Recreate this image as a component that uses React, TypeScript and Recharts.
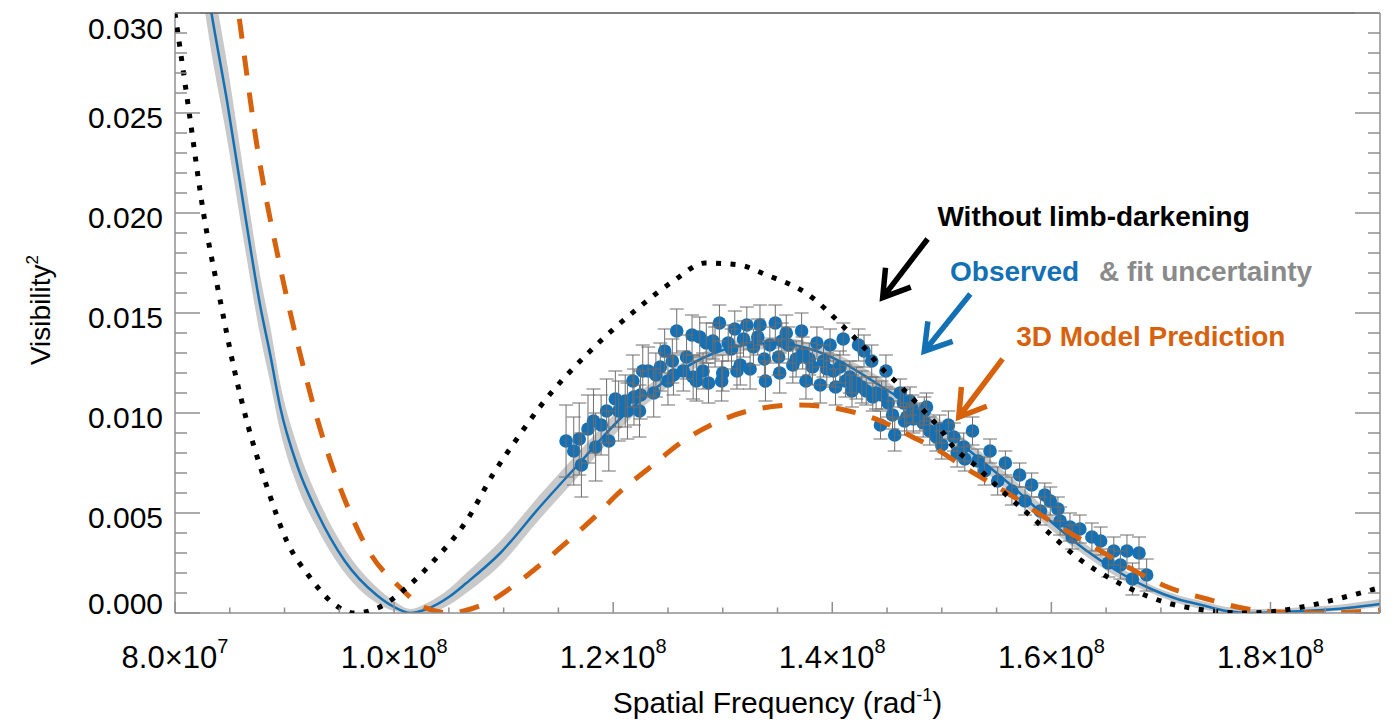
import React from 'react';
import {
  ComposedChart,
  Line,
  Area,
  Scatter,
  ErrorBar,
  XAxis,
  YAxis,
  ReferenceLine,
  ReferenceDot,
} from 'recharts';

const FONT = '"Liberation Sans", Arial, Helvetica, sans-serif';
const AXIS_GRAY = '#8f8f8f';
const FIT_BLUE = '#1470b5';
const DOT_BLUE = '#1570b4';
const MODEL_ORANGE = '#d7620e';
const BAND_GRAY = '#c9c9c9';
const ERR_GRAY = '#6e6e6e';
const TEXT_GRAY = '#8a8a8a';

// ---------- axis ticks (spatial frequency in units of 1e6 rad^-1) ----------
const X_MAJOR = [80, 100, 120, 140, 160, 180];
const X_MAJOR_MANTISSA = ['8.0', '1.0', '1.2', '1.4', '1.6', '1.8'];
const X_MAJOR_EXPONENT = ['7', '8', '8', '8', '8', '8'];
const X_MINOR = [80, 85, 90, 95, 100, 105, 110, 115, 120, 125, 130, 135, 140, 145, 150, 155, 160, 165, 170, 175, 180, 185, 190];
const Y_MAJOR = [0, 0.005, 0.01, 0.015, 0.02, 0.025, 0.03];
const Y_MAJOR_LABELS = ['0.000', '0.005', '0.010', '0.015', '0.020', '0.025', '0.030'];
const Y_MINOR = [
  0, 0.001, 0.002, 0.003, 0.004, 0.005, 0.006, 0.007, 0.008, 0.009, 0.01, 0.011, 0.012, 0.013, 0.014, 0.015,
  0.016, 0.017, 0.018, 0.019, 0.02, 0.021, 0.022, 0.023, 0.024, 0.025, 0.026, 0.027, 0.028, 0.029, 0.03,
];

// ---------- series ----------
// Without limb-darkening (uniform disk): [x, V^2]
const UNIFORM_DISK: [number, number][] = [
  [80, 0.03], [81.3, 0.025], [82.6, 0.02], [84.1, 0.0157], [85.4, 0.0122], [86.7, 0.0093], [88.4, 0.0063],
  [90.2, 0.0036], [92.3, 0.0018], [94.4, 0.0005], [96.4, 0.0], [98.7, 0.0003], [101.2, 0.0013], [103.6, 0.0026],
  [106.6, 0.0046], [109.1, 0.007], [111.2, 0.0087], [113.3, 0.0103], [117.9, 0.0131], [122.4, 0.0153],
  [125.5, 0.0166], [128.4, 0.0175], [131.5, 0.0174], [134.0, 0.0169], [137.6, 0.016], [141.6, 0.014],
  [142.7, 0.0134], [144.4, 0.0123], [146.3, 0.0113], [148.2, 0.0102], [150.0, 0.0091], [150.9, 0.0084],
  [153.0, 0.0074], [155.5, 0.0061], [158.0, 0.0049], [160.2, 0.0038], [162.3, 0.0028], [164.5, 0.002],
  [166.9, 0.0013], [170.6, 0.0005], [173.3, 0.0002], [175.8, 0.00003], [177.6, 0.0], [179.8, 0.00005],
  [183.8, 0.0004], [187.5, 0.0009], [190.2, 0.0013],
];

// 3D model prediction: [x, V^2]
const MODEL_3D: [number, number][] = [
  [84.5, 0.0352], [85.8, 0.03], [87.5, 0.0233], [89.6, 0.0173], [91.4, 0.013], [93.2, 0.0093], [95.4, 0.0058],
  [97.8, 0.003], [100.5, 0.0013], [102.7, 0.0003], [105.1, 0.0], [107.0, 0.0002], [108.8, 0.0006], [111.0, 0.0014],
  [113.1, 0.0023], [116.5, 0.0039], [118.5, 0.0049], [120.3, 0.0059], [123.4, 0.0073], [126.4, 0.0086],
  [129.7, 0.0096], [133.1, 0.0102], [136.9, 0.0104], [140.7, 0.0102], [144.4, 0.0096], [147.7, 0.0087],
  [149.5, 0.0082], [152.0, 0.0073], [156.0, 0.006], [159.9, 0.0046], [163.9, 0.0033], [167.3, 0.0022],
  [170.6, 0.0013], [174.2, 0.0007], [177.9, 0.0002], [181.5, 0.00003], [184.5, 0.0], [187.5, 0.00005], [190.0, 0.00015],
];

// Observed fit with uncertainty band: [x, V^2, low, high]
const FIT: [number, number, number, number][] = [
  [82, 0.0348, 0.0328, 0.0368], [83.3, 0.0301, 0.0281, 0.0321], [84.75, 0.0256, 0.0237, 0.0275], [86.4, 0.0199, 0.0182, 0.0216],
  [87.8, 0.0153, 0.0138, 0.0168], [88.7, 0.0129, 0.0115, 0.0143], [89.6, 0.0103, 0.0091, 0.0115], [91.2, 0.0073, 0.0063, 0.0083],
  [93.0, 0.005, 0.0042, 0.0058], [95.5, 0.0026, 0.002, 0.0032], [98.4, 0.0009, 0.0005, 0.0013], [100.0, 0.0003, 0.0001, 0.0006],
  [101.5, 0.0, 0.0, 0.0002], [103.0, 0.0002, 0.0, 0.0005], [105.0, 0.0008, 0.0004, 0.0012], [106.6, 0.0015, 0.001, 0.002],
  [109.7, 0.003, 0.0024, 0.0036], [113.3, 0.0053, 0.0047, 0.0059], [117.1, 0.0076, 0.007, 0.0082], [120.8, 0.0098, 0.0093, 0.0103],
  [124.5, 0.0115, 0.0111, 0.0119], [128.0, 0.0127, 0.0124, 0.013], [132.0, 0.0134, 0.0131, 0.0137], [135.0, 0.0135, 0.0132, 0.0138],
  [138.0, 0.0132, 0.0129, 0.0135], [141.0, 0.0125, 0.0122, 0.0128], [143.7, 0.0116, 0.0112, 0.012], [146.8, 0.0105, 0.0101, 0.0109],
  [150.0, 0.0092, 0.0088, 0.0096], [153.0, 0.0079, 0.0075, 0.0083], [156.5, 0.0063, 0.0059, 0.0067], [159.9, 0.0046, 0.0042, 0.005],
  [163.0, 0.0032, 0.0029, 0.0035], [166.0, 0.0021, 0.0018, 0.0024], [169.1, 0.0012, 0.001, 0.0014], [171.5, 0.0007, 0.0005, 0.0009],
  [173.7, 0.0004, 0.0002, 0.0006], [176.0, 0.0001, 0.0, 0.0003], [178.3, 0.0, 0.0, 0.0002], [180.5, 0.00005, 0.0, 0.0002],
  [183.0, 0.0001, 0.0, 0.0003], [186.0, 0.0002, 0.0001, 0.0004], [190.0, 0.00045, 0.0003, 0.0007],
];

// Observed data: [x, V^2, sigma]
const OBSERVED: [number, number, number][] = [
  [115.7, 0.0086, 0.0018], [116.4, 0.0081, 0.0017], [116.9, 0.0087, 0.0018], [117.1, 0.0074, 0.0016], [117.7, 0.0092, 0.0017],
  [118.2, 0.0096, 0.0016], [118.4, 0.0083, 0.0017], [118.9, 0.0094, 0.0015], [119.4, 0.0101, 0.0016], [119.6, 0.0086, 0.0015],
  [120.2, 0.0107, 0.0014], [120.5, 0.0101, 0.0015], [121.1, 0.0106, 0.0013], [121.3, 0.0101, 0.0014], [121.8, 0.0116, 0.0013],
  [121.9, 0.0108, 0.0014], [122.4, 0.0101, 0.0013], [122.5, 0.0109, 0.0012], [122.7, 0.0121, 0.0013], [123.2, 0.0121, 0.0012],
  [123.7, 0.011, 0.0012], [123.9, 0.0119, 0.0011], [124.3, 0.0123, 0.0012], [124.7, 0.0131, 0.0011], [125.0, 0.0116, 0.0012],
  [125.4, 0.0126, 0.0011], [125.5, 0.0119, 0.001], [125.8, 0.0141, 0.0011], [126.4, 0.0121, 0.001], [126.7, 0.0128, 0.0011],
  [127.2, 0.0139, 0.001], [127.3, 0.0118, 0.0011], [127.6, 0.0116, 0.001], [127.9, 0.0138, 0.001], [128.2, 0.0121, 0.0009],
  [128.5, 0.0135, 0.001], [128.7, 0.0115, 0.001], [129.1, 0.0136, 0.0009], [129.3, 0.0133, 0.001], [129.7, 0.0145, 0.0009],
  [129.9, 0.0116, 0.001], [130.0, 0.012, 0.0009], [130.5, 0.0135, 0.0009], [130.8, 0.0132, 0.001], [131.1, 0.0142, 0.0009],
  [131.3, 0.0121, 0.0009], [131.6, 0.0124, 0.001], [131.9, 0.0137, 0.0009], [132.2, 0.0144, 0.0009], [132.5, 0.0122, 0.001],
  [132.8, 0.0133, 0.0009], [133.2, 0.0138, 0.0009], [133.4, 0.0144, 0.001], [133.8, 0.0127, 0.0009], [133.9, 0.0116, 0.001],
  [134.3, 0.0134, 0.0009], [134.8, 0.0145, 0.0009], [135.1, 0.0128, 0.0009], [135.2, 0.012, 0.001], [135.4, 0.0136, 0.0009],
  [135.8, 0.014, 0.0009], [136.0, 0.0134, 0.0009], [136.4, 0.0124, 0.0009], [136.7, 0.0127, 0.0009], [137.2, 0.0141, 0.0009],
  [137.3, 0.013, 0.0008], [137.6, 0.0116, 0.0009], [137.9, 0.0127, 0.0008], [138.2, 0.0123, 0.0009], [138.6, 0.0135, 0.0008],
  [138.9, 0.0114, 0.0009], [139.2, 0.0126, 0.0008], [139.5, 0.0122, 0.0008], [139.8, 0.0134, 0.0008], [140.1, 0.0121, 0.0008],
  [140.3, 0.0113, 0.0009], [140.7, 0.0123, 0.0008], [141.0, 0.0137, 0.0008], [141.2, 0.0116, 0.0008], [141.6, 0.0118, 0.0008],
  [141.8, 0.0111, 0.0008], [142.2, 0.0115, 0.0008], [142.4, 0.0134, 0.0008], [142.7, 0.0113, 0.0008], [142.9, 0.0131, 0.0008],
  [143.1, 0.0111, 0.0007], [143.6, 0.0126, 0.0008], [143.7, 0.0108, 0.0007], [144.0, 0.011, 0.0008], [144.4, 0.0094, 0.0007],
  [144.5, 0.0109, 0.0007], [144.9, 0.0121, 0.0008], [145.1, 0.0105, 0.0007], [145.5, 0.0099, 0.0007], [145.7, 0.0089, 0.0008],
  [146.2, 0.011, 0.0007], [146.5, 0.0105, 0.0007], [146.6, 0.0096, 0.0007], [146.8, 0.0098, 0.0007], [147.1, 0.0106, 0.0007],
  [147.3, 0.0102, 0.0007], [147.4, 0.0097, 0.0007], [148.0, 0.0098, 0.0007], [148.3, 0.0095, 0.0007], [148.4, 0.0101, 0.0007],
  [148.6, 0.0103, 0.0007], [148.9, 0.0091, 0.0007], [149.5, 0.0088, 0.0007], [149.8, 0.0092, 0.0007], [150.0, 0.0084, 0.0007],
  [150.6, 0.0094, 0.0007], [151.1, 0.0088, 0.0007], [151.4, 0.008, 0.0007], [152.0, 0.0083, 0.0007], [152.1, 0.0077, 0.0006],
  [152.8, 0.0091, 0.0007], [153.3, 0.0076, 0.0006], [153.9, 0.0071, 0.0007], [154.4, 0.0081, 0.0006], [155.1, 0.0066, 0.0007],
  [155.8, 0.0075, 0.0006], [156.4, 0.0061, 0.0007], [157.1, 0.0069, 0.0006], [157.6, 0.0056, 0.0007], [158.2, 0.0064, 0.0006],
  [159.0, 0.0051, 0.0007], [159.4, 0.0059, 0.0006], [159.9, 0.0056, 0.0007], [160.6, 0.0052, 0.0006], [160.8, 0.0046, 0.0007],
  [161.7, 0.0043, 0.0007], [161.9, 0.0038, 0.0006], [162.6, 0.0042, 0.0007], [163.7, 0.0038, 0.0007], [164.5, 0.0036, 0.0007],
  [165.2, 0.0025, 0.0007], [165.7, 0.0031, 0.0007], [166.3, 0.0024, 0.0007], [166.9, 0.0031, 0.0008], [167.4, 0.0017, 0.0008],
  [168.0, 0.003, 0.0008], [168.7, 0.0019, 0.0008],
];

// ---------- annotations (data coordinates) ----------
const LABEL_NO_LD = { text: 'Without limb-darkening', x: 149.6, y: 0.01935 };
const LABEL_OBS = { text: 'Observed', x: 150.75, y: 0.0166 };
const LABEL_UNC = { text: '& fit uncertainty', x: 164.35, y: 0.0166 };
const LABEL_3D = { text: '3D Model Prediction', x: 156.8, y: 0.01335 };
const ARROW_NO_LD: [{ x: number; y: number }, { x: number; y: number }] = [{ x: 148.7, y: 0.0187 }, { x: 144.6, y: 0.01577 }];
const ARROW_OBS: [{ x: number; y: number }, { x: number; y: number }] = [{ x: 152.6, y: 0.01595 }, { x: 148.4, y: 0.01309 }];
const ARROW_3D: [{ x: number; y: number }, { x: number; y: number }] = [{ x: 155.55, y: 0.01271 }, { x: 151.55, y: 0.0098 }];

// ---------- derived tables ----------
const udData = UNIFORM_DISK.map(([x, v]) => ({ x, v }));
const modelData = MODEL_3D.map(([x, v]) => ({ x, v }));
const fitData = FIT.map(([x, v, lo, hi]) => ({ x, v, band: [lo, hi] }));
const obsData = OBSERVED.map(([x, v, e]) => ({ x, v, e }));

// ---------- custom ticks ----------
const BottomTick = (p: any) => {
  const { x, y, payload } = p;
  const i = X_MAJOR.indexOf(payload.value);
  const major = i >= 0;
  return (
    <g>
      <line x1={x} x2={x} y1={y} y2={y - (major ? 11 : 5.5)} stroke={AXIS_GRAY} strokeWidth={1.5} />
      {major && (
        <text x={x} y={y + 55} textAnchor="middle" fontSize={31} fontFamily={FONT} fill="#000">
          {X_MAJOR_MANTISSA[i]}×10
          <tspan dy={-15} fontSize={20}>{X_MAJOR_EXPONENT[i]}</tspan>
        </text>
      )}
    </g>
  );
};

const TopTick = (p: any) => {
  const { x, y, payload } = p;
  const major = X_MAJOR.indexOf(payload.value) >= 0;
  return <line x1={x} x2={x} y1={y} y2={y + (major ? 11 : 5.5)} stroke={AXIS_GRAY} strokeWidth={1.5} />;
};

const LeftTick = (p: any) => {
  const { x, y, payload } = p;
  const i = Y_MAJOR.indexOf(payload.value);
  const major = i >= 0;
  const dy = i === 0 ? 1 : i === Y_MAJOR.length - 1 ? 26 : 15;
  return (
    <g>
      <line x1={x} x2={x + (major ? 25 : 12)} y1={y} y2={y} stroke={AXIS_GRAY} strokeWidth={1.5} />
      {major && (
        <text x={x - 12} y={y + dy} textAnchor="end" fontSize={30} fontFamily={FONT} fill="#000">
          {Y_MAJOR_LABELS[i]}
        </text>
      )}
    </g>
  );
};

const RightTick = (p: any) => {
  const { x, y, payload } = p;
  const major = Y_MAJOR.indexOf(payload.value) >= 0;
  return <line x1={x} x2={x - (major ? 25 : 12)} y1={y} y2={y} stroke={AXIS_GRAY} strokeWidth={1.5} />;
};

const XTitle = () => (
  <text x={769.5} y={705} textAnchor="middle" fontSize={30} fontFamily={FONT} fill="#000">
    Spatial Frequency (rad
    <tspan dy={-12} fontSize={18}>-1</tspan>
    <tspan dy={12}>)</tspan>
  </text>
);

const YTitle = () => (
  <text x={42} y={302} transform="rotate(-90 42 302)" textAnchor="middle" fontSize={28} fontFamily={FONT} fill="#000">
    Visibility
    <tspan dy={-12} fontSize={17}>2</tspan>
  </text>
);

const makeArrow = (color: string) => (p: any) => {
  const { x1, y1, x2, y2 } = p;
  const dx = x1 - x2;
  const dy = y1 - y2;
  const L = Math.hypot(dx, dy) || 1;
  const ux = dx / L;
  const uy = dy / L;
  const a = (32 * Math.PI) / 180;
  const h = 30;
  const ax = x2 + h * (ux * Math.cos(a) - uy * Math.sin(a));
  const ay = y2 + h * (ux * Math.sin(a) + uy * Math.cos(a));
  const bx = x2 + h * (ux * Math.cos(-a) - uy * Math.sin(-a));
  const by = y2 + h * (ux * Math.sin(-a) + uy * Math.cos(-a));
  return (
    <path
      d={`M${x1},${y1}L${x2},${y2}M${ax},${ay}L${x2},${y2}L${bx},${by}`}
      stroke={color}
      strokeWidth={5.5}
      fill="none"
      strokeLinejoin="miter"
      strokeLinecap="butt"
    />
  );
};

const makeText = (text: string, color: string) => (p: any) => (
  <text x={p.cx} y={p.cy} fontSize={28} fontWeight="bold" fontFamily={FONT} fill={color}>
    {text}
  </text>
);

const DotShape = (p: any) => <circle cx={p.cx} cy={p.cy} r={6.8} fill={DOT_BLUE} />;

export default function App() {
  return (
    <div style={{ width: 1387, height: 715 }}>
      <ComposedChart
        width={1387}
        height={715}
        margin={{ top: 5, right: 15, bottom: 40, left: 0 }}
        style={{ fontFamily: FONT }}
      >
        <XAxis
          xAxisId="x"
          type="number"
          dataKey="x"
          domain={[80, 190]}
          allowDataOverflow
          ticks={X_MINOR}
          interval={0}
          tickSize={0}
          tickMargin={0}
          tickLine={false}
          axisLine={{ stroke: AXIS_GRAY, strokeWidth: 1.5 }}
          tick={(p: any) => <BottomTick {...p} />}
          height={70}
          label={<XTitle />}
        />
        <XAxis
          xAxisId="top"
          orientation="top"
          mirror
          type="number"
          domain={[80, 190]}
          allowDataOverflow
          ticks={X_MINOR}
          interval={0}
          tickSize={0}
          tickMargin={0}
          tickLine={false}
          axisLine={{ stroke: '#555', strokeWidth: 1.5 }}
          tick={(p: any) => <TopTick {...p} />}
          height={1}
        />
        <YAxis
          yAxisId="y"
          type="number"
          domain={[0, 0.03]}
          allowDataOverflow
          ticks={Y_MINOR}
          interval={0}
          tickSize={0}
          tickMargin={0}
          tickLine={false}
          axisLine={{ stroke: AXIS_GRAY, strokeWidth: 1.5 }}
          tick={(p: any) => <LeftTick {...p} />}
          width={167}
          label={<YTitle />}
        />
        <YAxis
          yAxisId="right"
          orientation="right"
          mirror
          type="number"
          domain={[0, 0.03]}
          allowDataOverflow
          ticks={Y_MINOR}
          interval={0}
          tickSize={0}
          tickMargin={0}
          tickLine={false}
          axisLine={{ stroke: AXIS_GRAY, strokeWidth: 1.5 }}
          tick={(p: any) => <RightTick {...p} />}
          width={1}
        />

        <Area
          data={fitData}
          dataKey="band"
          xAxisId="x"
          yAxisId="y"
          type="monotone"
          stroke="none"
          fill={BAND_GRAY}
          fillOpacity={1}
          isAnimationActive={false}
          activeDot={false}
          zIndex={100}
        />
        <Scatter
          data={obsData}
          dataKey="v"
          xAxisId="x"
          yAxisId="y"
          shape={DotShape}
          isAnimationActive={false}
          zIndex={200}
        >
          <ErrorBar dataKey="e" direction="y" width={7} stroke={ERR_GRAY} strokeWidth={1} />
        </Scatter>
        <Line
          data={fitData}
          dataKey="v"
          xAxisId="x"
          yAxisId="y"
          type="monotone"
          stroke={FIT_BLUE}
          strokeWidth={2.5}
          dot={false}
          activeDot={false}
          isAnimationActive={false}
          zIndex={300}
        />
        <Line
          data={modelData}
          dataKey="v"
          xAxisId="x"
          yAxisId="y"
          type="monotone"
          stroke={MODEL_ORANGE}
          strokeWidth={5}
          strokeDasharray="20 17"
          dot={false}
          activeDot={false}
          isAnimationActive={false}
          zIndex={400}
        />
        <Line
          data={udData}
          dataKey="v"
          xAxisId="x"
          yAxisId="y"
          type="monotone"
          stroke="#000"
          strokeWidth={5}
          strokeDasharray="5 9.5"
          dot={false}
          activeDot={false}
          isAnimationActive={false}
          zIndex={500}
        />

        <ReferenceLine xAxisId="x" yAxisId="y" segment={ARROW_NO_LD} shape={makeArrow('#000')} zIndex={600} />
        <ReferenceLine xAxisId="x" yAxisId="y" segment={ARROW_OBS} shape={makeArrow(FIT_BLUE)} zIndex={600} />
        <ReferenceLine xAxisId="x" yAxisId="y" segment={ARROW_3D} shape={makeArrow(MODEL_ORANGE)} zIndex={600} />
        <ReferenceDot xAxisId="x" yAxisId="y" x={LABEL_NO_LD.x} y={LABEL_NO_LD.y} r={0} shape={makeText(LABEL_NO_LD.text, '#000')} zIndex={600} />
        <ReferenceDot xAxisId="x" yAxisId="y" x={LABEL_OBS.x} y={LABEL_OBS.y} r={0} shape={makeText(LABEL_OBS.text, FIT_BLUE)} zIndex={600} />
        <ReferenceDot xAxisId="x" yAxisId="y" x={LABEL_UNC.x} y={LABEL_UNC.y} r={0} shape={makeText(LABEL_UNC.text, TEXT_GRAY)} zIndex={600} />
        <ReferenceDot xAxisId="x" yAxisId="y" x={LABEL_3D.x} y={LABEL_3D.y} r={0} shape={makeText(LABEL_3D.text, MODEL_ORANGE)} zIndex={600} />
      </ComposedChart>
    </div>
  );
}
